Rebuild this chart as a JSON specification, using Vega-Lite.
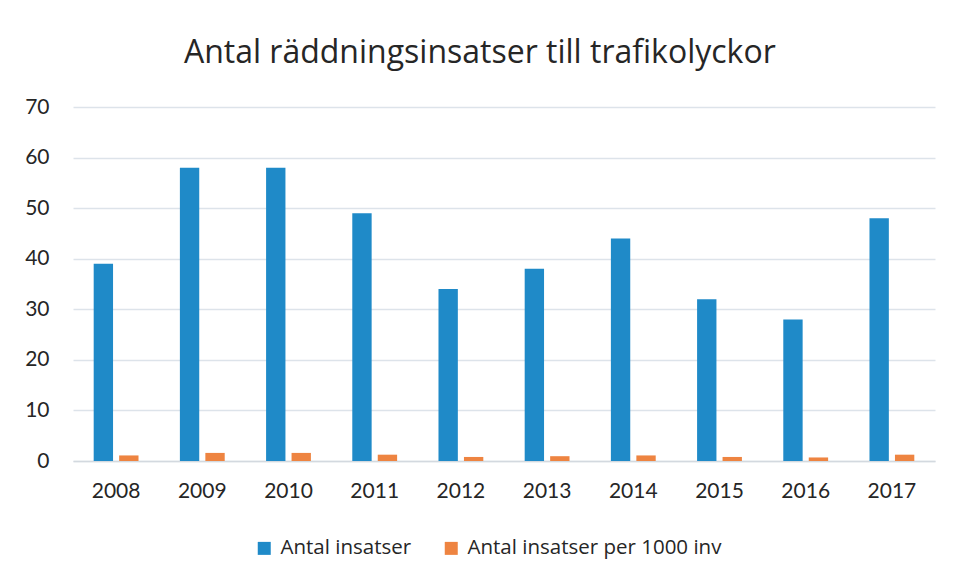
{
  "$schema": "https://vega.github.io/schema/vega-lite/v6.json",
  "width": 862,
  "height": 354,
  "autosize": {"type": "none"},
  "padding": {"left": 73, "top": 107, "right": 19, "bottom": 114},
  "background": "white",
  "title": {
    "text": "Antal räddningsinsatser till trafikolyckor",
    "font": "Open Sans",
    "fontSize": 32,
    "fontWeight": "normal",
    "color": "#262626",
    "anchor": "middle",
    "frame": "bounds",
    "offset": 26
  },
  "data": {
    "values": [
      {"year": "2008", "serie": "Antal insatser", "value": 39},
      {"year": "2008", "serie": "Antal insatser per 1000 inv", "value": 1.1},
      {"year": "2009", "serie": "Antal insatser", "value": 58},
      {"year": "2009", "serie": "Antal insatser per 1000 inv", "value": 1.6},
      {"year": "2010", "serie": "Antal insatser", "value": 58},
      {"year": "2010", "serie": "Antal insatser per 1000 inv", "value": 1.6},
      {"year": "2011", "serie": "Antal insatser", "value": 49},
      {"year": "2011", "serie": "Antal insatser per 1000 inv", "value": 1.25},
      {"year": "2012", "serie": "Antal insatser", "value": 34},
      {"year": "2012", "serie": "Antal insatser per 1000 inv", "value": 0.8},
      {"year": "2013", "serie": "Antal insatser", "value": 38},
      {"year": "2013", "serie": "Antal insatser per 1000 inv", "value": 0.95},
      {"year": "2014", "serie": "Antal insatser", "value": 44},
      {"year": "2014", "serie": "Antal insatser per 1000 inv", "value": 1.1},
      {"year": "2015", "serie": "Antal insatser", "value": 32},
      {"year": "2015", "serie": "Antal insatser per 1000 inv", "value": 0.8},
      {"year": "2016", "serie": "Antal insatser", "value": 28},
      {"year": "2016", "serie": "Antal insatser per 1000 inv", "value": 0.7},
      {"year": "2017", "serie": "Antal insatser", "value": 48},
      {"year": "2017", "serie": "Antal insatser per 1000 inv", "value": 1.25}
    ]
  },
  "mark": {"type": "bar"},
  "encoding": {
    "x": {
      "field": "year",
      "type": "nominal",
      "scale": {"paddingInner": 0.48, "paddingOuter": 0.24},
      "axis": {
        "title": null,
        "labelAngle": 0,
        "labelFont": "Lato",
        "labelFontSize": 21,
        "labelColor": "#262626",
        "labelPadding": 19,
        "ticks": false,
        "domain": true,
        "domainColor": "#d3d9df",
        "domainWidth": 1.5
      }
    },
    "xOffset": {
      "field": "serie",
      "type": "nominal",
      "scale": {"paddingInner": 0.24, "paddingOuter": 0}
    },
    "y": {
      "field": "value",
      "type": "quantitative",
      "scale": {"domain": [0, 70], "nice": false},
      "axis": {
        "title": null,
        "values": [0, 10, 20, 30, 40, 50, 60, 70],
        "labelFont": "Lato",
        "labelFontSize": 21,
        "labelColor": "#262626",
        "labelPadding": 24,
        "ticks": false,
        "domain": false,
        "grid": true,
        "gridColor": "#dde3ea",
        "gridWidth": 1.5
      }
    },
    "color": {
      "field": "serie",
      "type": "nominal",
      "scale": {
        "domain": ["Antal insatser", "Antal insatser per 1000 inv"],
        "range": ["#1f8ac8", "#ee8441"]
      },
      "legend": {
        "title": null,
        "orient": "none",
        "legendX": 181,
        "legendY": 431,
        "direction": "horizontal",
        "symbolType": "square",
        "symbolSize": 169,
        "symbolStrokeWidth": 0,
        "labelFont": "Open Sans",
        "labelFontSize": 20.5,
        "labelColor": "#262626",
        "labelLimit": 0,
        "labelOffset": 6,
        "columnPadding": 29
      }
    }
  },
  "config": {
    "view": {"stroke": null}
  }
}
